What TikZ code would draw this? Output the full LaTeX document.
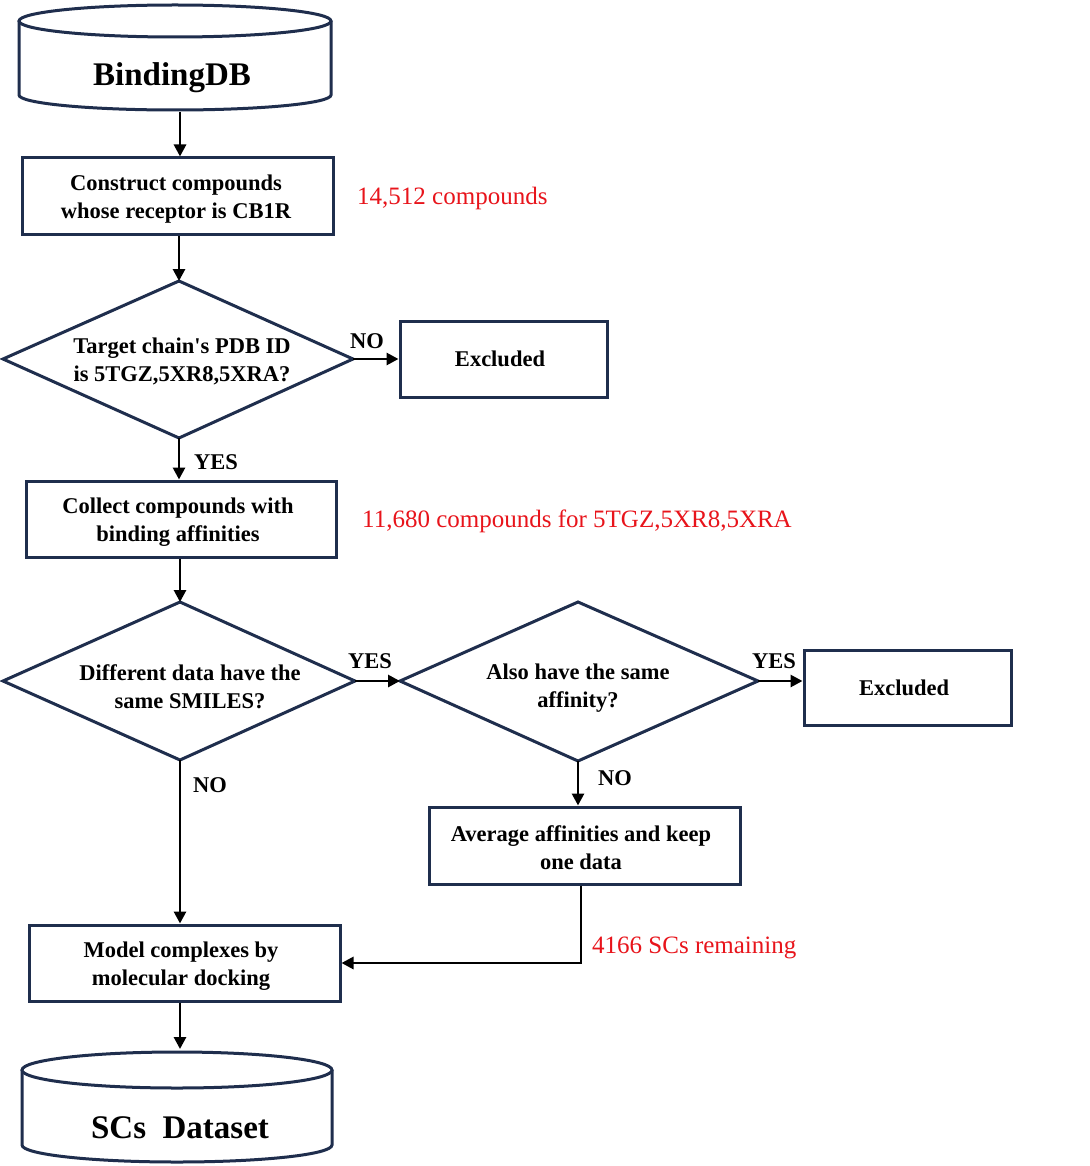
\documentclass[tikz,border=0pt]{standalone}
\usepackage{fontspec}
\setmainfont{Liberation Serif}
\usetikzlibrary{arrows.meta}
\definecolor{navy}{HTML}{1F2E4D}
\definecolor{redtxt}{HTML}{E8141B}
\begin{document}
\begin{tikzpicture}[x=1pt,y=-1pt,
  boxst/.style={draw=navy,line width=3pt,rectangle,inner sep=0pt},
  shapest/.style={draw=navy,line width=3pt,line join=miter},
  txt/.style={align=center,inner sep=0pt,font=\fontsize{22.5}{28}\selectfont\bfseries},
  lbl/.style={inner sep=0pt,font=\fontsize{22.5}{28}\selectfont\bfseries},
  bigt/.style={inner sep=0pt,font=\fontsize{33}{38}\selectfont\bfseries},
  note/.style={inner sep=0pt,anchor=west,text=redtxt,font=\fontsize{25}{30}\selectfont},
  arr/.style={line width=2.8pt,-{Triangle[length=12pt,width=12pt]}}]
\useasboundingbox (0,0) rectangle (1089,1166);
\fill[white] (0,0) rectangle (1089,1166);

% cylinder 1
\draw[shapest] (19,21) -- (19,95) arc[start angle=180,end angle=0,x radius=156,y radius=15] -- (331,21);
\draw[shapest,fill=white] (175,21) ellipse [x radius=156,y radius=16];
\node[minimum width=312pt,minimum height=105pt,inner sep=0pt] (db1) at (175,58) {};
\node[bigt] (db1t) at (172,78) {BindingDB};

% box 1
\node[boxst,minimum width=311pt,minimum height=77pt] (box1) at (177.5,196.5) {};
\node[txt] (box1t) at (176,199) {Construct compounds\\whose receptor is CB1R};
\node[note] (n1) at (357,198) {14,512 compounds};

% diamond 1
\coordinate (d1t) at (179,281);
\coordinate (d1r) at (353,359);
\coordinate (d1b) at (179,438);
\coordinate (d1l) at (3,359);
\draw[shapest] (d1t) -- (d1r) -- (d1b) -- (d1l) -- cycle;
\node[txt] (d1) at (182,361) {Target chain\textquotesingle s PDB ID\\is 5TGZ,5XR8,5XRA?};

\node[boxst,minimum width=207pt,minimum height=76pt] (ex1) at (503.5,359) {};
\node[lbl] (ex1t) at (500,359) {Excluded};
\node[lbl] (no1) at (367,341) {NO};

% box 2
\node[boxst,minimum width=310pt,minimum height=76pt] (box2) at (181,519) {};
\node[txt] (box2t) at (178,522) {Collect compounds with\\binding affinities};
\node[lbl] (yes1) at (216,462) {YES};
\node[note] (n2) at (362,521) {11,680 compounds for 5TGZ,5XR8,5XRA};

% diamond 2
\coordinate (d2t) at (180,602);
\coordinate (d2r) at (355,681);
\coordinate (d2b) at (180,760);
\coordinate (d2l) at (3,681);
\draw[shapest] (d2t) -- (d2r) -- (d2b) -- (d2l) -- cycle;
\node[txt] (d2) at (190,687) {Different data have the\\same SMILES?};

% diamond 3
\coordinate (d3t) at (578,602);
\coordinate (d3r) at (758,681);
\coordinate (d3b) at (578,761);
\coordinate (d3l) at (400,681);
\draw[shapest] (d3t) -- (d3r) -- (d3b) -- (d3l) -- cycle;
\node[txt] (d3) at (578,688) {Also have the same\\affinity?};

\node[boxst,minimum width=207pt,minimum height=75pt] (ex2) at (907.5,687.5) {};
\node[lbl] (ex2t) at (904,688) {Excluded};
\node[lbl] (yes2) at (370,661) {YES};
\node[lbl] (yes3) at (774,661) {YES};
\node[lbl] (no2) at (615,778) {NO};
\node[lbl] (no3) at (210,785) {NO};

% box 3
\node[boxst,minimum width=311pt,minimum height=77pt] (box3) at (584.5,845.5) {};
\node[txt] (box3t) at (581,848) {Average affinities and keep\\one data};

% box 4
\node[boxst,minimum width=311pt,minimum height=76pt] (box4) at (184.5,963) {};
\node[txt] (box4t) at (181,966) {Model complexes by\\molecular docking};
\node[note] (n3) at (592,948) {4166 SCs remaining};

% cylinder 2
\draw[shapest] (22,1070) -- (22,1145) arc[start angle=180,end angle=0,x radius=155,y radius=17] -- (332,1070);
\draw[shapest,fill=white] (177,1070) ellipse [x radius=155,y radius=18];
\node[minimum width=310pt,minimum height=110pt,inner sep=0pt] (db2) at (177,1107) {};
\node[bigt] (db2t) at (180,1128) {SCs\ \ Dataset};

% connectors
\draw[arr] (180,112) -- (180 ,156.5);
\draw[arr] (d1t |- box1.south) -- (d1t);
\draw[arr] (d1r) -- (d1r -| ex1.west);
\draw[arr] (d1b) -- (d1b |- box2.north);
\draw[arr] (d2t |- box2.south) -- (d2t);
\draw[arr] (d2r) -- (d3l);
\draw[arr] (d3r) -- (d3r -| ex2.west);
\draw[arr] (d3b) -- (d3b |- box3.north);
\draw[arr] (d2b) -- (d2b |- box4.north);
\draw[arr] (box3.south -| 581,0) |- (box4.east);
\draw[arr] (box4.south -| 180,0) -- (180,1049);
\end{tikzpicture}
\end{document}
